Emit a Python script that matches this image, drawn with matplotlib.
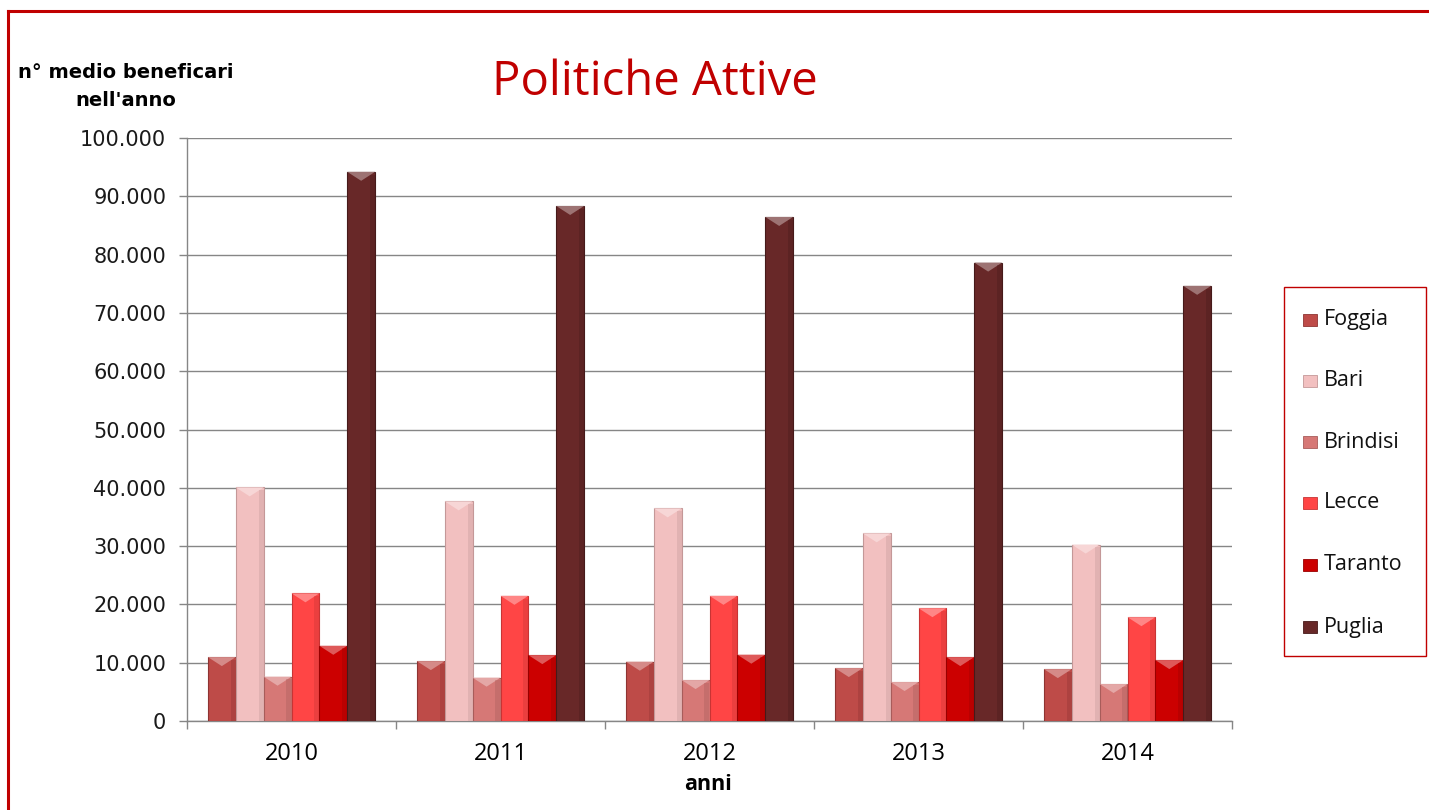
import matplotlib
matplotlib.use("Agg")
import matplotlib.pyplot as plt
import numpy as np
from matplotlib.ticker import FuncFormatter, MultipleLocator, FixedLocator
from matplotlib.lines import Line2D
from matplotlib.patches import Rectangle, Polygon
import matplotlib.colors as mcolors

years = ["2010", "2011", "2012", "2013", "2014"]
series = ["Foggia", "Bari", "Brindisi", "Lecce", "Taranto", "Puglia"]
foggia = [10960, 10270, 10170, 9080, 8900]
bari = [40070, 37670, 36470, 32190, 30260]
brindisi = [7600, 7430, 7020, 6680, 6340]
lecce = [21900, 21470, 21470, 19350, 17810]
taranto = [12900, 11300, 11370, 10960, 10450]
puglia = [94200, 88340, 86460, 78630, 74640]
values = [foggia, bari, brindisi, lecce, taranto, puglia]
colors = ["#BE4B48", "#F2C0C0", "#D67876", "#FF4545", "#CC0000", "#682828"]
edges = ["#8E3432", "#C49898", "#A85C5A", "#C83434", "#990000", "#461A1A"]


def lighten(c, f):
    r, g, b = mcolors.to_rgb(c)
    return (r + (1 - r) * f, g + (1 - g) * f, b + (1 - b) * f)


W, H = 1429, 810
fig = plt.figure(figsize=(W / 100, H / 100), dpi=100)
ax = fig.add_axes([187 / W, 1 - 721 / H, (1232 - 187) / W, (721 - 138) / H])

n = len(series)
bw = 1 / (n + 1.5)
x = np.arange(len(years))
ymax = 100000
px_per_unit = (721 - 138) / ymax
chev = 9 / px_per_unit
for i, (vals, c, ec) in enumerate(zip(values, colors, edges)):
    xs = x - 0.5 + 0.75 * bw + bw * i + bw / 2
    bars = ax.bar(xs, vals, width=bw, color=c, edgecolor=ec, linewidth=0.8, zorder=3)
    for p in bars:
        bx, by, w, h = p.get_x(), p.get_y(), p.get_width(), p.get_height()
        top = by + h
        ax.add_patch(Polygon([[bx, top], [bx + w, top], [bx + w * 0.5, top - chev]],
                             closed=True, facecolor=lighten(c, 0.35), edgecolor="none",
                             zorder=4))
        ax.add_patch(Rectangle((bx + w * 0.82, by), w * 0.18, h - chev * 0.3,
                               facecolor=ec, alpha=0.35, edgecolor="none", zorder=4))

ax.set_xlim(-0.5, len(years) - 0.5)
ax.set_ylim(0, ymax)
ax.yaxis.set_major_locator(MultipleLocator(10000))
ax.yaxis.set_major_formatter(FuncFormatter(lambda v, p: f"{int(v):,}".replace(",", ".")))
ax.grid(axis="y", color="#868686", linewidth=1.0, zorder=0)
ax.set_axisbelow(True)
for s in ["top", "right"]:
    ax.spines[s].set_visible(False)
for s in ["left", "bottom"]:
    ax.spines[s].set_color("#868686")
    ax.spines[s].set_linewidth(1.0)

ax.set_xticks(x)
ax.set_xticklabels(years, fontsize=17, family="Open Sans")
ax.tick_params(axis="x", which="major", length=0, pad=15)
ax.xaxis.set_minor_locator(FixedLocator(np.arange(len(years) + 1) - 0.5))
ax.tick_params(axis="x", which="minor", length=6, color="#868686", width=1)
ax.tick_params(axis="y", length=6, color="#868686", width=1, labelsize=15, pad=9)
for lab in ax.get_yticklabels():
    lab.set_family("DejaVu Sans")
    lab.set_color("#1a1a1a")

fig.text(708 / W, 1 - 784 / H, "anni", ha="center", va="center", fontsize=15.5,
         fontweight="bold", family="Open Sans")
fig.text(126 / W, 1 - 73 / H, "n° medio beneficari", ha="center", va="center",
         fontsize=14, fontweight="bold", family="DejaVu Sans")
fig.text(126 / W, 1 - 100 / H, "nell'anno", ha="center", va="center",
         fontsize=14, fontweight="bold", family="DejaVu Sans")
fig.text(655 / W, 1 - 82 / H, "Politiche Attive", ha="center", va="center",
         fontsize=34, color="#C00000", family="Open Sans")


def fx(px):
    return px / W


def fy(py):
    return 1 - py / H


fig.add_artist(Rectangle((fx(1284), fy(656)), fx(1426) - fx(1284), fy(287) - fy(656),
                         transform=fig.transFigure, facecolor="white",
                         edgecolor="#C00000", linewidth=1.0))
ent_y = [320, 381, 442, 503, 565, 627]
for name, c, ec, yy in zip(series, colors, edges, ent_y):
    fig.add_artist(Rectangle((fx(1303), fy(yy + 6)), fx(14), 12 / H,
                             transform=fig.transFigure, facecolor=c,
                             edgecolor=ec, linewidth=0.6))
    fig.text(fx(1324), fy(yy), name, ha="left", va="center", fontsize=15.5,
             family="Open Sans", color="#111111")

fig.add_artist(Line2D([8 / W, 8 / W], [0, 1 - 11 / H], transform=fig.transFigure,
                      color="#C00000", linewidth=2.2))
fig.add_artist(Line2D([8 / W, 1], [1 - 11 / H, 1 - 11 / H], transform=fig.transFigure,
                      color="#C00000", linewidth=2.2))

fig.savefig("out.png", dpi=100, facecolor="white")
